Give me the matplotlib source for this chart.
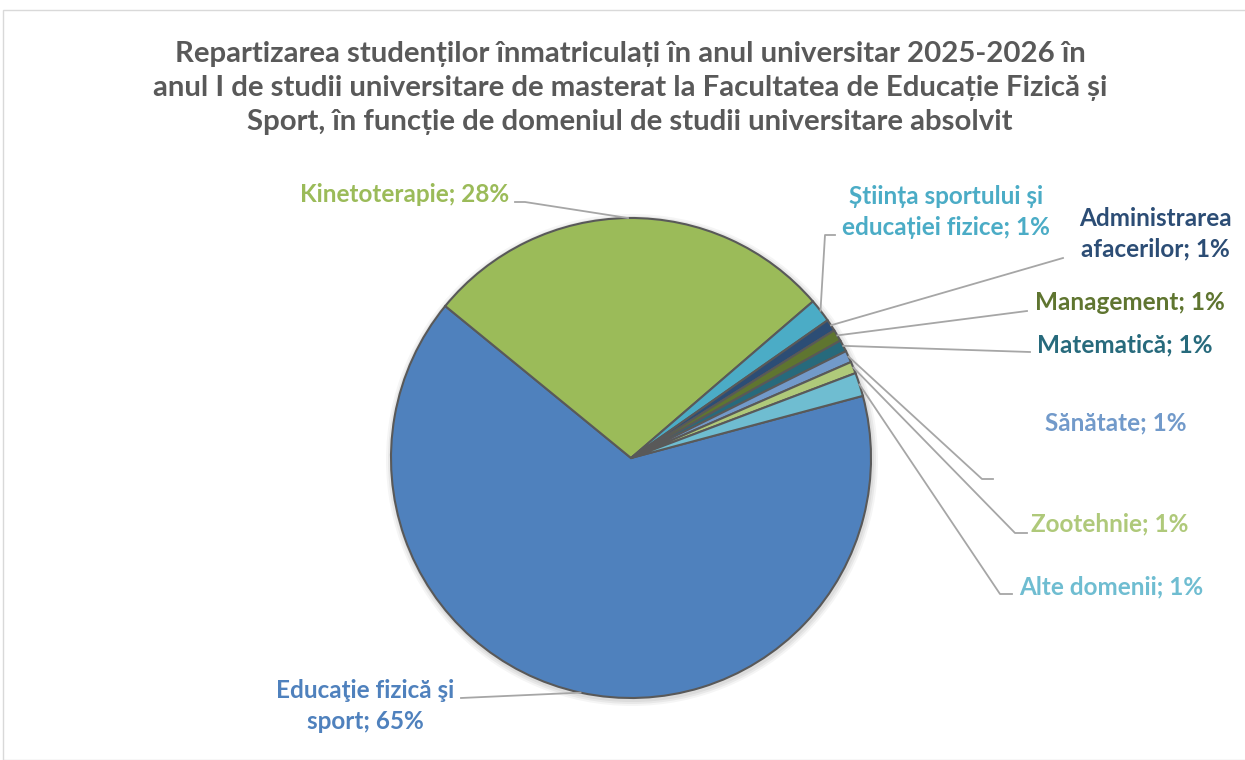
import matplotlib
matplotlib.use('Agg')
import matplotlib.pyplot as plt
import matplotlib.patches as patches
import numpy as np

# Data: number of students by previous study domain
domains = ['Educaţie fizică şi\nsport', 'Kinetoterapie', 'Știința sportului și\neducației fizice',
           'Administrarea\nafacerilor', 'Management', 'Matematică', 'Sănătate', 'Zootehnie',
           'Alte domenii']
students = [82, 35, 2, 1, 1, 1, 1, 1, 2]
pct_labels = ['65%', '28%', '1%', '1%', '1%', '1%', '1%', '1%', '1%']

colors = ['#4F81BD', '#9BBB59', '#4BACC6', '#2C4D75', '#5F7530', '#276A7C',
          '#729ACA', '#AFC97A', '#6FBDD1']

title = ('Repartizarea studenților înmatriculați în anul universitar 2025-2026 în\n'
         'anul I de studii universitare de masterat la Facultatea de Educație Fizică și\n'
         'Sport, în funcție de domeniul de studii universitare absolvit')

W, H = 1245, 760
fig = plt.figure(figsize=(W / 100, H / 100), dpi=100)
ax = fig.add_axes([0, 0, 1, 1])

def py(y):
    # pixel row (from top) -> data y
    return H - y

# chart border
fig.patches.append(patches.Rectangle((3 / W, 0), 1.2, 1 - 10 / H, transform=fig.transFigure,
                                     fill=False, edgecolor='#d9d9d9', linewidth=1))

cx, cy, r = 631, py(458), 240

# soft shadow
for k, a in enumerate([0.05, 0.05, 0.04]):
    ax.add_patch(patches.Circle((cx + 1, cy - 2), r + 2 + 2 * k, color='#000000', alpha=a,
                                linewidth=0, zorder=0))

wedges, _ = ax.pie(students, colors=colors, startangle=15, counterclock=False,
                   center=(cx, cy), radius=r, frame=True,
                   wedgeprops=dict(edgecolor='#595959', linewidth=1.5))
ax.set_xlim(0, W)
ax.set_ylim(0, H)
ax.set_aspect('equal')
ax.axis('off')

# label text centre and leader end (x, y, end_x, end_y, short tick length)
label_pos = [
    (365, 706, 461, 698, 0),
    (405, 194, 515, 202, 10),
    (946, 212, 835, 235, -10),
    (1155, 234, 1063, 258, 0),
    (1130, 303, 1027, 311, 0),
    (1125, 345, 1030, 352, 0),
    (1116, 423, 993, 479, -11),
    (1110, 524, 1027, 533, -12),
    (1111, 587, 1012, 594, -12),
]

fs = 17.5
for w, name, pct, col, (tx, ty, ex, ey, tick) in zip(wedges, domains, pct_labels, colors, label_pos):
    mid = np.deg2rad((w.theta1 + w.theta2) / 2)
    sx = cx + r * np.cos(mid)
    sy = cy + r * np.sin(mid)
    if tick:
        xs = [ex, ex + tick, sx]
        ys = [py(ey), py(ey), sy]
    else:
        xs = [ex, sx]
        ys = [py(ey), sy]
    ax.plot(xs, ys, color='#a6a6a6', linewidth=1.3, zorder=1)
    ax.text(tx, py(ty), name + '; ' + pct, color=col, fontsize=fs, fontweight='bold',
            family='Lato', ha='center', va='center', linespacing=1.4)

fig.text(630 / W, 1 - 88 / H, title, ha='center', va='center', fontsize=21.2,
         fontweight='bold', family='Lato', color='#595959', linespacing=1.4)

fig.savefig('out.png', dpi=100)
